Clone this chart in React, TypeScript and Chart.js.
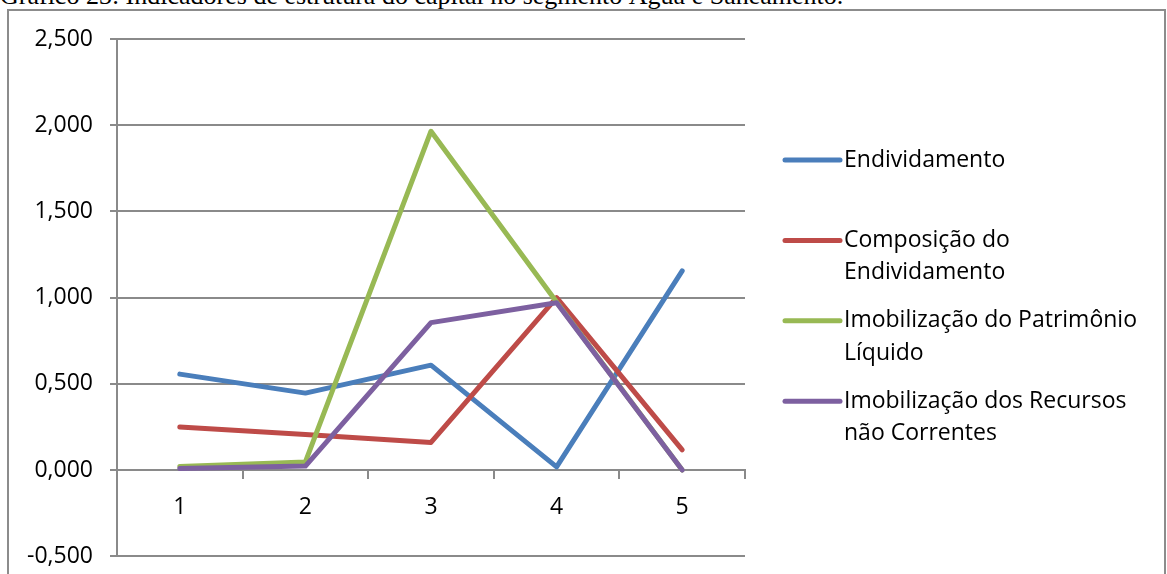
import React, { useEffect, useRef } from "react";
import { Chart, registerables } from "chart.js";

Chart.register(...registerables);

// Categories (years/periods) and indicator series
const categories = ["1", "2", "3", "4", "5"];
const endividamento = [0.556, 0.446, 0.608, 0.018, 1.155];
const composicao = [0.25, 0.206, 0.16, 1.0, 0.117];
const imobilizacaoPL = [0.02, 0.047, 1.965, 0.975, 0.0];
const imobilizacaoRNC = [0.008, 0.023, 0.855, 0.97, 0.0];

const seriesNames = [
  ["Endividamento"],
  ["Composição do", "Endividamento"],
  ["Imobilização do Patrimônio", "Líquido"],
  ["Imobilização dos Recursos", "não Correntes"],
];
const seriesColors = ["#4A7EBB", "#BE4B48", "#98B954", "#7D60A0"];

const yMin = -0.5;
const yMax = 2.5;
const yStep = 0.5;

const FONT = "'Open Sans', sans-serif";
const AXIS_GRAY = "#8a8a8a";

const formatTick = (v: number) => v.toFixed(3).replace(".", ",");

// Legend to the right of the plot, with wrapped labels
const sideLegend = {
  id: "sideLegend",
  afterDraw(chart: any) {
    const { ctx, chartArea } = chart;
    const x0 = chartArea.right + 40;
    const lineLen = 55;
    const textX = x0 + lineLen + 4;
    const firstY = 160;
    const entryGap = 80.4;
    const lineGap = 32.5;
    ctx.save();
    ctx.font = `23px ${FONT}`;
    ctx.textBaseline = "middle";
    ctx.textAlign = "left";
    chart.data.datasets.forEach((ds: any, i: number) => {
      const y = firstY + i * entryGap;
      ctx.strokeStyle = ds.borderColor;
      ctx.lineWidth = 5;
      ctx.lineCap = "round";
      ctx.beginPath();
      ctx.moveTo(x0, y);
      ctx.lineTo(x0 + lineLen, y);
      ctx.stroke();
      ctx.fillStyle = "#000";
      seriesNames[i].forEach((t, j) => ctx.fillText(t, textX, y + j * lineGap));
    });
    ctx.restore();
  },
};

export default function App() {
  const canvasRef = useRef<HTMLCanvasElement | null>(null);

  useEffect(() => {
    if (!canvasRef.current) return;
    const values = [endividamento, composicao, imobilizacaoPL, imobilizacaoRNC];
    const chart = new Chart(canvasRef.current, {
      type: "line",
      data: {
        labels: categories,
        datasets: values.map((v, i) => ({
          label: seriesNames[i].join(" "),
          data: v,
          borderColor: seriesColors[i],
          backgroundColor: seriesColors[i],
          borderWidth: 5,
          pointRadius: 0,
          borderCapStyle: "round" as const,
          borderJoinStyle: "round" as const,
          tension: 0,
          fill: false,
          // later series are painted over earlier ones
          order: values.length - i,
        })),
      },
      options: {
        responsive: false,
        animation: false,
        events: [],
        layout: { padding: { left: 8, top: 39, right: 422, bottom: 7 } },
        plugins: {
          legend: { display: false },
          tooltip: { enabled: false },
          title: { display: false },
        },
        scales: {
          x: {
            type: "category",
            position: { y: 0 } as any,
            offset: true,
            grid: {
              display: true,
              drawOnChartArea: false,
              drawTicks: true,
              tickLength: 8,
              offset: true,
              color: AXIS_GRAY,
              lineWidth: 2,
            },
            border: { display: true, color: AXIS_GRAY, width: 2 },
            ticks: {
              color: "#000",
              font: { family: FONT, size: 23 },
              padding: 16,
              maxRotation: 0,
            },
          },
          y: {
            min: yMin,
            max: yMax,
            afterFit: (scale: any) => {
              scale.width = 109;
            },
            ticks: {
              stepSize: yStep,
              color: "#000",
              font: { family: FONT, size: 23 },
              padding: 17,
              callback: (v: any) => formatTick(Number(v)),
            },
            grid: {
              color: AXIS_GRAY,
              lineWidth: 2,
              drawTicks: true,
              tickLength: 7,
            },
            border: { display: true, color: AXIS_GRAY, width: 2 },
          },
        },
      },
      plugins: [sideLegend],
    });
    return () => chart.destroy();
  }, []);

  return (
    <div
      style={{
        position: "fixed",
        left: 0,
        top: 0,
        width: 1167,
        height: 574,
        overflow: "hidden",
        background: "#fff",
      }}
    >
      <div
        style={{
          position: "absolute",
          left: 0,
          top: -17,
          whiteSpace: "nowrap",
          fontFamily: "'Liberation Serif', 'Times New Roman', serif",
          fontSize: 26,
          lineHeight: "26px",
          color: "#000",
        }}
      >
        Gráfico 23: Indicadores de estrutura do capital no segmento Água e Saneamento.
      </div>
      <div
        style={{
          position: "absolute",
          left: 7,
          top: 9,
          width: 1159,
          height: 600,
          border: "2px solid #8c8c8c",
          boxSizing: "border-box",
          background: "#fff",
        }}
      />
      <canvas
        ref={canvasRef}
        width={1167}
        height={587}
        style={{ position: "absolute", left: 0, top: 0 }}
      />
    </div>
  );
}
